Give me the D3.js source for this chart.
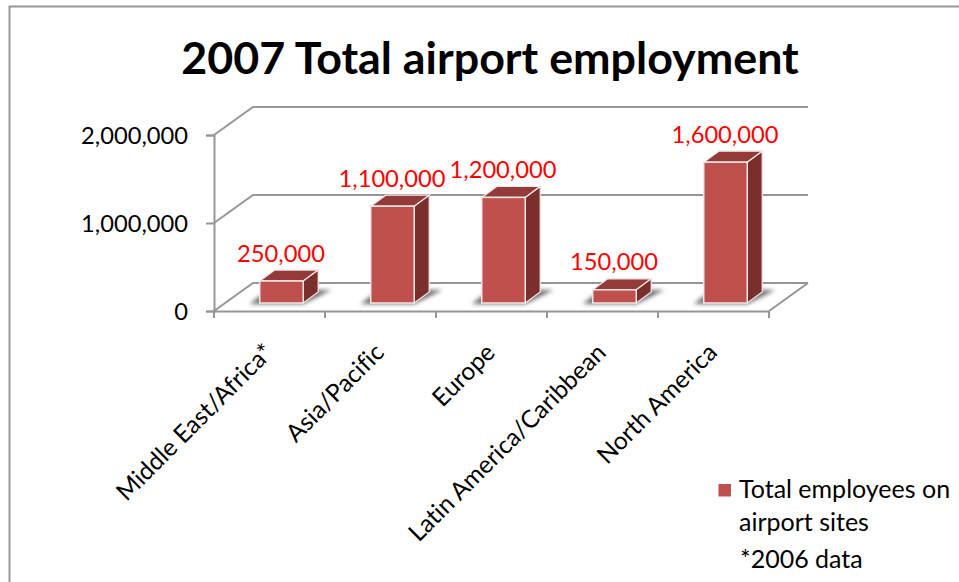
<!DOCTYPE html>
<html>
<head>
<meta charset="utf-8">
<script src="https://cdn.jsdelivr.net/npm/d3@7"></script>
<style>
  html, body { margin: 0; padding: 0; background: #fff; }
  svg { display: block; }
  text { font-family: Lato, "Open Sans", sans-serif; font-variant-ligatures: none; }
</style>
</head>
<body>
<div id="chart"></div>
<script>
// Dataset
const categories = ["Middle East/Africa*", "Asia/Pacific", "Europe", "Latin America/Caribbean", "North America"];
const employees = [250000, 1100000, 1200000, 150000, 1600000];
const yTicks = [0, 1000000, 2000000];
const seriesName = ["Total employees on", "airport sites"];
const footnote = "*2006 data";
const chartTitle = "2007 Total airport employment";

// Dimensions
const width = 959, height = 582;
const depth = { x: 39, y: -28 };      // floor depth of the 3d box
const barDepth = { x: 15, y: -11 };   // depth of one bar
const barShift = { x: 12, y: -8 };    // bars stand in the middle of the floor
const barWidth = 43.5;

const svg = d3.select("#chart")
    .append("svg")
    .attr("width", width)
    .attr("height", height);

const defs = svg.append("defs");
defs.append("filter").attr("id", "blur")
    .attr("x", "-30%").attr("y", "-60%").attr("width", "160%").attr("height", "220%")
    .append("feGaussianBlur").attr("stdDeviation", 2);

// Frame
svg.append("path")
    .attr("d", "M9.5,582V6.5H959")
    .attr("fill", "none")
    .attr("stroke", "#969696")
    .attr("stroke-width", 2);

// Scales
const xScale = d3.scaleBand()
    .domain(categories)
    .range([214, 769]);

const yScale = d3.scaleLinear()
    .domain([0, 2000000])
    .range([311, 135]);

const grey = "#969696";

// Back wall grid, side wall and floor
const grid = svg.append("g")
    .attr("fill", "none")
    .attr("stroke", grey)
    .attr("stroke-width", 2);

grid.selectAll("path")
    .data(yTicks)
    .join("path")
    .attr("d", (d) => {
        const y = yScale(d);
        return `M214,${y}L${214 + depth.x},${y + depth.y}H${769 + depth.x}`;
    });

grid.append("path")
    .attr("d", `M${769 + depth.x},${yScale(0) + depth.y}L769,${yScale(0)}`);

// Axes
const xAxis = d3.axisBottom(xScale).tickValues([]).tickSizeOuter(0);
const xAxisGroup = svg.append("g")
    .attr("transform", `translate(0, ${yScale(0)})`)
    .call(xAxis);
xAxisGroup.select(".domain").attr("stroke", grey).attr("stroke-width", 2);

// category boundaries, not centres
xAxisGroup.selectAll(".edge")
    .data(categories.concat([null]))
    .join("line")
    .attr("class", "edge")
    .attr("x1", (d, i) => 214 + i * xScale.step())
    .attr("x2", (d, i) => 214 + i * xScale.step())
    .attr("y1", 0)
    .attr("y2", 7)
    .attr("stroke", grey)
    .attr("stroke-width", 2);

const yAxis = d3.axisLeft(yScale)
    .tickValues(yTicks)
    .tickSize(8)
    .tickFormat(d3.format(","));
const yAxisGroup = svg.append("g")
    .attr("transform", "translate(214, 0)")
    .call(yAxis);
yAxisGroup.select(".domain").attr("stroke", grey).attr("stroke-width", 2);
yAxisGroup.selectAll(".tick line").attr("stroke", grey).attr("stroke-width", 2);
yAxisGroup.selectAll(".tick text")
    .attr("x", -26)
    .attr("dy", "0.37em")
    .attr("font-size", 23.7)
    .attr("fill", "#000")
    .style("font-family", "Lato");

// Bars
const barLeft = (d) => xScale(d) + (xScale.step() - barWidth) / 2 + barShift.x;
const barY = (v) => yScale(v) + barShift.y;

const bars = svg.append("g")
    .selectAll("g")
    .data(categories)
    .join("g");

// floor shadow
bars.append("path")
    .attr("d", (d) => {
        const x = barLeft(d), y = barY(0);
        return `M${x - 10},${y + 1}H${x + barWidth}L${x + barWidth + 28},${y - 13}H${x + barWidth + 12}L${x},${y - 7}Z`;
    })
    .attr("fill", "#6e6e6e")
    .attr("filter", "url(#blur)");

bars.append("path")  // top
    .attr("d", (d, i) => {
        const x = barLeft(d), y = barY(employees[i]);
        return `M${x},${y}L${x + barDepth.x},${y + barDepth.y}H${x + barWidth + barDepth.x}L${x + barWidth},${y}Z`;
    })
    .attr("fill", "#943b39")
    .attr("stroke", "#efe6e6")
    .attr("stroke-width", 1.3);

bars.append("path")  // side
    .attr("d", (d, i) => {
        const x = barLeft(d) + barWidth, y = barY(employees[i]), y0 = barY(0);
        return `M${x},${y}L${x + barDepth.x},${y + barDepth.y}V${y0 + barDepth.y}L${x},${y0}Z`;
    })
    .attr("fill", "#7b2f2d")
    .attr("stroke", "#efe6e6")
    .attr("stroke-width", 1.3);

bars.append("rect")  // front
    .attr("x", barLeft)
    .attr("y", (d, i) => barY(employees[i]))
    .attr("width", barWidth)
    .attr("height", (d, i) => barY(0) - barY(employees[i]))
    .attr("fill", "#c0504d")
    .attr("stroke", "#efe6e6")
    .attr("stroke-width", 1.5);

// Value labels
bars.append("text")
    .attr("x", (d) => barLeft(d) + barWidth / 2 - 0.5)
    .attr("y", (d, i) => barY(employees[i]) + barDepth.y - 8.5)
    .attr("text-anchor", "middle")
    .attr("font-size", 23.7)
    .attr("fill", "#ff0000")
    .text((d, i) => d3.format(",")(employees[i]));

// Category labels
svg.append("g")
    .selectAll("text")
    .data(categories)
    .join("text")
    .attr("transform", (d) => `translate(${xScale(d) + xScale.step() / 2 + 5}, 354) rotate(-45)`)
    .attr("text-anchor", "end")
    .attr("font-size", 24.5)
    .attr("fill", "#000")
    .text((d) => d);

// Title
svg.append("text")
    .attr("x", 490)
    .attr("y", 74)
    .attr("text-anchor", "middle")
    .attr("font-size", 44.8)
    .attr("font-weight", 700)
    .attr("fill", "#000")
    .text(chartTitle);

// Legend
svg.append("rect")
    .attr("x", 718.5)
    .attr("y", 484)
    .attr("width", 12.5)
    .attr("height", 12.5)
    .attr("fill", "#c0504d");

const legendY = [498, 531, 568];
svg.append("g")
    .selectAll("text")
    .data(seriesName.concat([footnote]))
    .join("text")
    .attr("x", (d, i) => i == 2 ? 740 : 739)
    .attr("y", (d, i) => legendY[i])
    .attr("font-size", 25)
    .attr("fill", "#000")
    .text((d) => d);
</script>
</body>
</html>
